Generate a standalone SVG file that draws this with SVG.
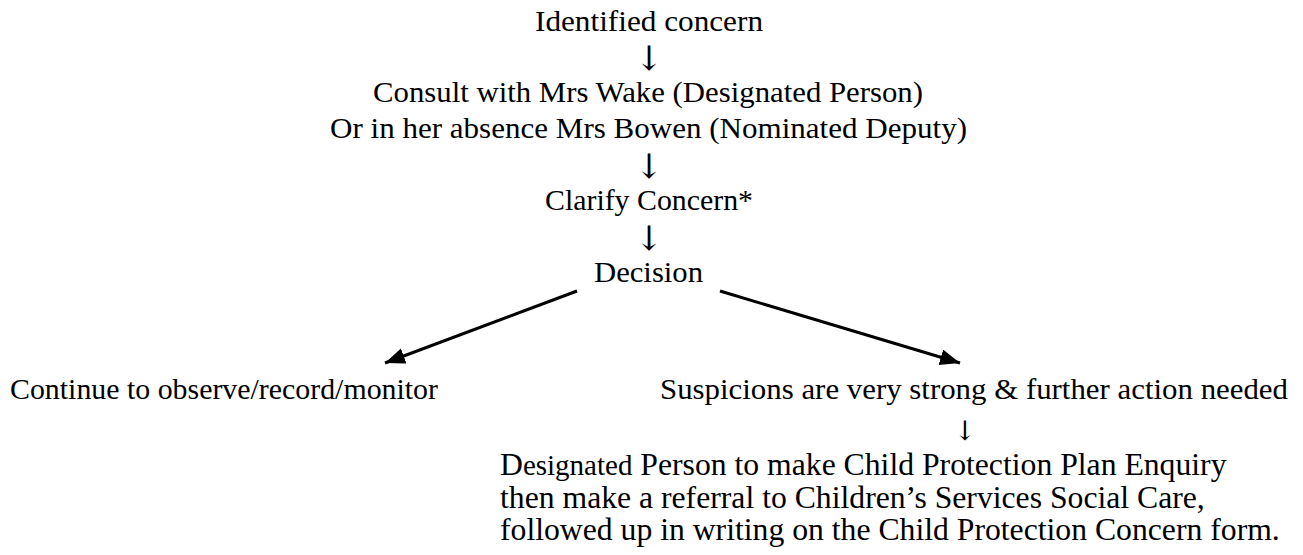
<svg xmlns="http://www.w3.org/2000/svg" width="1303" height="555" viewBox="0 0 1303 555">
<style>
text{font-family:'Liberation Serif','DejaVu Serif',serif;fill:#000}
.g{font-size:30px}
.t{font-size:31.7px}
.c{text-anchor:middle}
.ar{font-family:'DejaVu Serif',serif;font-size:34px;text-anchor:middle}
.ln{stroke:#000;stroke-width:3;fill:none}
</style>
<defs>
<marker id="ah" markerUnits="userSpaceOnUse" markerWidth="22" markerHeight="18" refX="20" refY="8" orient="auto">
<path d="M0,0 L20,8 L0,16 z" fill="#000"/>
</marker>
</defs>
<g id="n-identified"><text class="g c" x="649" y="31" textLength="228" lengthAdjust="spacingAndGlyphs">Identified concern</text></g>
<g id="n-consult">
<text class="g c" x="648" y="102" textLength="550" lengthAdjust="spacingAndGlyphs">Consult with Mrs Wake (Designated Person)</text>
<text class="g c" x="648.5" y="138" textLength="637" lengthAdjust="spacingAndGlyphs">Or in her absence Mrs Bowen (Nominated Deputy)</text>
</g>
<g id="n-clarify"><text class="g c" x="649" y="210" textLength="208" lengthAdjust="spacingAndGlyphs">Clarify Concern*</text></g>
<g id="n-decision"><text class="g c" x="648.5" y="282" textLength="109" lengthAdjust="spacingAndGlyphs">Decision</text></g>
<g id="n-continue"><text class="g" x="10" y="399" textLength="428" lengthAdjust="spacingAndGlyphs">Continue to observe/record/monitor</text></g>
<g id="n-suspicions"><text class="g" x="660" y="399" textLength="628" lengthAdjust="spacingAndGlyphs">Suspicions are very strong &amp; further action needed</text></g>
<g id="n-referral">
<text class="t" x="500" y="475">D<tspan style="font-size:29px">esignated</tspan> Person to make Child Protection Plan Enquiry</text>
<text class="t" x="500" y="507.5">then make a referral to Children’s Services Social Care,</text>
<text class="t" x="500" y="540">followed up in writing on the Child Protection Concern form.</text>
</g>
<g id="connectors">
<text class="ar" x="649" y="70">↓</text>
<text class="ar" x="649" y="178">↓</text>
<text class="ar" x="649" y="250">↓</text>
<text class="ar" x="965" y="440" style="font-size:27px">↓</text>
<line class="ln" x1="577" y1="291" x2="385" y2="363" marker-end="url(#ah)"/>
<line class="ln" x1="720" y1="291" x2="960" y2="363" marker-end="url(#ah)"/>
</g>
</svg>
